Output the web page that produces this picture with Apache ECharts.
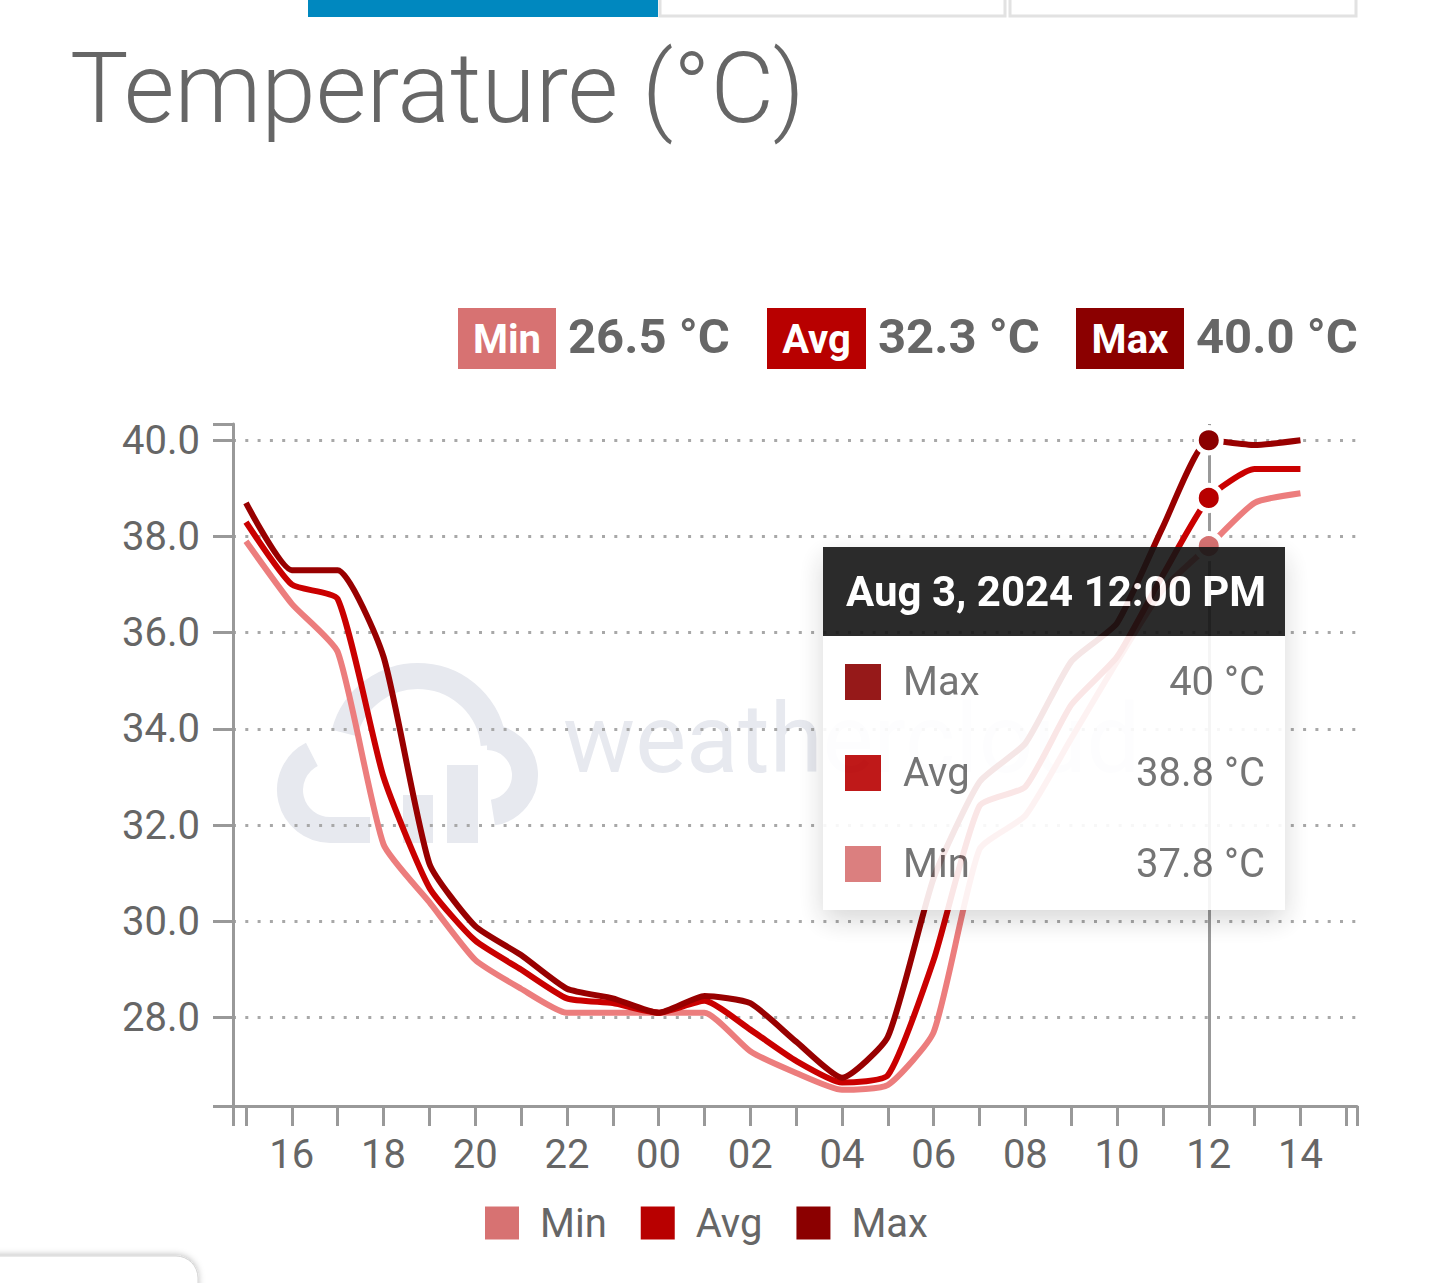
<!DOCTYPE html>
<html><head><meta charset="utf-8">
<script src="https://cdn.jsdelivr.net/npm/echarts@6/dist/echarts.min.js"></script>
<style>html,body{margin:0;padding:0;background:#fff;overflow:hidden;} #c{width:1439px;height:1283px;}</style>
</head><body><div id="c"></div>
<script>
// ---- data ----
const times = ['2024-08-02 15:00','2024-08-02 16:00','2024-08-02 17:00','2024-08-02 18:00','2024-08-02 19:00','2024-08-02 20:00','2024-08-02 21:00','2024-08-02 22:00','2024-08-02 23:00','2024-08-03 00:00','2024-08-03 01:00','2024-08-03 02:00','2024-08-03 03:00','2024-08-03 04:00','2024-08-03 05:00','2024-08-03 06:00','2024-08-03 07:00','2024-08-03 08:00','2024-08-03 09:00','2024-08-03 10:00','2024-08-03 11:00','2024-08-03 12:00','2024-08-03 13:00','2024-08-03 14:00'];
const minValues = [37.9, 36.6, 35.6, 31.6, 30.4, 29.2, 28.6, 28.1, 28.1, 28.1, 28.1, 27.3, 26.85, 26.5, 26.6, 27.7, 31.5, 32.2, 33.8, 35.4, 36.9, 37.8, 38.7, 38.9];
const avgValues = [38.3, 37.0, 36.7, 33.0, 30.7, 29.6, 29.0, 28.4, 28.3, 28.1, 28.35, 27.75, 27.1, 26.65, 26.8, 29.2, 32.4, 32.8, 34.5, 35.5, 37.2, 38.8, 39.4, 39.4];
const maxValues = [38.7, 37.3, 37.3, 35.5, 31.2, 29.9, 29.3, 28.6, 28.4, 28.1, 28.45, 28.3, 27.5, 26.75, 27.6, 30.9, 32.9, 33.7, 35.4, 36.2, 38.2, 40.0, 39.9, 40.0];
const seriesNames = ['Min', 'Avg', 'Max'];
const seriesColors = ['#d77272', '#b80000', '#8b0000'];
const summaryValues = ['26.5', '32.3', '40.0'];
const yTickValues = [28, 30, 32, 34, 36, 38, 40];
const yRange = [26.1625, 40.3375];
const xRange = ['2024-08-02 14:43', '2024-08-03 15:14'];
const xExtraTick = '2024-08-03 15:00';
const tooltipIndex = 21;
const titleText = 'Temperature (°C)';
const unit = '°C';

// ---- helpers ----
const ts = s => new Date(s.replace(' ', 'T') + ':00').getTime();
const pad2 = n => String(n).padStart(2, '0');
const xTicks = [ts(xRange[0])].concat(times.map(ts), [ts(xExtraTick), ts(xRange[1])]);
const xLabels = times.map(ts).filter(t => new Date(t).getHours() % 2 === 0);
const yTicks = [yRange[0]].concat(yTickValues, [yRange[1]]);
const valuesBySeries = [minValues, avgValues, maxValues];
const months = ['Jan','Feb','Mar','Apr','May','Jun','Jul','Aug','Sep','Oct','Nov','Dec'];
function fmtDate(t) {
  const d = new Date(t);
  let h = d.getHours(); const ap = h >= 12 ? 'PM' : 'AM'; h = h % 12; if (h === 0) h = 12;
  return months[d.getMonth()] + ' ' + d.getDate() + ', ' + d.getFullYear() + ' ' + h + ':' + pad2(d.getMinutes()) + ' ' + ap;
}

const FONT = 'Roboto, "Noto Sans", sans-serif';
const chart = echarts.init(document.getElementById('c'), null, {renderer: 'svg'});

const badgeBoxes = [[458, 98], [767, 99], [1076, 108]];
const graphics = [];
graphics.push({type: 'rect', shape: {x: 308, y: -4, width: 350, height: 21}, style: {fill: '#0088bf'}});
graphics.push({type: 'rect', shape: {x: 660, y: -6, width: 345, height: 22}, style: {fill: '#fff', stroke: '#e2e2e2', lineWidth: 3}});
graphics.push({type: 'rect', shape: {x: 1010, y: -6, width: 346, height: 22}, style: {fill: '#fff', stroke: '#e2e2e2', lineWidth: 3}});
graphics.push({type: 'text', style: {text: titleText, x: 70, y: 88, fill: '#666', fontFamily: FONT, fontWeight: 300, fontSize: 98, textVerticalAlign: 'middle'}});
badgeBoxes.forEach((b, i) => {
  graphics.push({type: 'rect', shape: {x: b[0], y: 308, width: b[1], height: 61}, style: {fill: seriesColors[i]}});
  graphics.push({type: 'text', style: {text: seriesNames[i], x: b[0] + b[1] / 2, y: 339, fill: '#fff', fontFamily: FONT, fontWeight: 'bold', fontSize: 40, textAlign: 'center', textVerticalAlign: 'middle'}});
  graphics.push({type: 'text', style: {text: summaryValues[i] + ' ' + unit, x: b[0] + b[1] + 12, y: 336, fill: '#666', fontFamily: FONT, fontWeight: 'bold', fontSize: 49, textVerticalAlign: 'middle'}});
});
const wm = '#e7e9ef';
graphics.push({type: 'group', z: -10, silent: true, children: [
  {type: 'arc', shape: {cx: 418, cy: 752, r: 76, startAngle: Math.PI * 1.08, endAngle: Math.PI * 1.97}, style: {stroke: wm, lineWidth: 26, fill: null}},
  {type: 'arc', shape: {cx: 330, cy: 790, r: 40, startAngle: Math.PI * 0.5, endAngle: Math.PI * 1.35}, style: {stroke: wm, lineWidth: 26, fill: null}},
  {type: 'arc', shape: {cx: 487, cy: 775, r: 38, startAngle: Math.PI * 1.5, endAngle: Math.PI * 0.45}, style: {stroke: wm, lineWidth: 26, fill: null}},
  {type: 'rect', shape: {x: 330, y: 817, width: 40, height: 26}, style: {fill: wm}},
  {type: 'rect', shape: {x: 403, y: 795, width: 30, height: 48}, style: {fill: wm}},
  {type: 'rect', shape: {x: 447, y: 765, width: 31, height: 78}, style: {fill: wm}},
  {type: 'text', style: {text: 'weathercloud', x: 563, y: 787, fill: wm, fontFamily: FONT, fontWeight: 400, fontSize: 96, textVerticalAlign: 'bottom'}}
]});
graphics.push({type: 'rect', shape: {x: -30, y: 1256, width: 228, height: 90, r: 22}, style: {fill: '#fff', stroke: '#d4d4d4', lineWidth: 1, shadowBlur: 6, shadowColor: 'rgba(0,0,0,0.25)', shadowOffsetY: -1}});

const option = {
  animation: false,
  backgroundColor: '#fff',
  textStyle: {fontFamily: FONT},
  color: seriesColors,
  grid: {left: 233, right: 82, top: 424, bottom: 177, containLabel: false},
  legend: {
    data: seriesNames, left: 483, top: 1203, padding: 0, icon: 'rect', itemWidth: 36, itemHeight: 35, itemGap: 32,
    selectedMode: false,
    textStyle: {fontSize: 40, color: '#666', fontFamily: FONT, lineHeight: 40, padding: [0, 0, 0, 15]}
  },
  xAxis: {
    type: 'value', min: ts(xRange[0]), max: ts(xRange[1]),
    axisLine: {show: true, lineStyle: {color: '#999', width: 3}},
    axisTick: {show: true, length: 20, lineStyle: {color: '#999', width: 3}, customValues: xTicks},
    axisLabel: {customValues: xLabels, fontSize: 40, color: '#666', margin: 28, fontFamily: FONT,
      formatter: v => pad2(new Date(v).getHours())},
    splitLine: {show: false}
  },
  yAxis: [{
    type: 'value', min: yRange[0], max: yRange[1],
    axisLine: {show: true, lineStyle: {color: '#999', width: 3}},
    axisTick: {show: true, length: 20, lineStyle: {color: '#999', width: 3}, customValues: yTicks},
    axisLabel: {customValues: yTickValues, fontSize: 40, color: '#666', margin: 33, fontFamily: FONT, formatter: v => v.toFixed(1)},
    splitLine: {show: false}
  }, {
    type: 'value', min: yRange[0], max: yRange[1], position: 'left',
    axisLine: {show: false}, axisLabel: {show: false},
    axisTick: {show: false, customValues: yTickValues},
    splitLine: {show: true, lineStyle: {color: '#a8a8a8', width: 3, type: [3, 9.3]}}
  }],
  tooltip: {
    trigger: 'axis', alwaysShowContent: true, transitionDuration: 0, showDelay: 0, hideDelay: 0,
    padding: 0, borderWidth: 0, backgroundColor: 'transparent', enterable: false,
    position: [823, 547],
    extraCssText: 'box-shadow:none;border-radius:0;',
    axisPointer: {type: 'line', z: 1, lineStyle: {color: '#999', width: 3, type: 'solid'}},
    formatter: params => {
      const byName = {};
      params.forEach(p => { byName[p.seriesName] = p; });
      let rows = '';
      ['Max', 'Avg', 'Min'].forEach(n => {
        const p = byName[n]; if (!p) return;
        rows += '<div style="display:flex;align-items:center;height:91px;padding:0 20px 0 22px;">' +
          '<span style="display:inline-block;width:36px;height:36px;background:' + p.color + ';"></span>' +
          '<span style="margin-left:22px;flex:1;color:#666;font-size:40px;">' + n + '</span>' +
          '<span style="color:#666;font-size:40px;">' + p.value[1] + ' ' + unit + '</span></div>';
      });
      return '<div style="width:462px;opacity:0.9;font-family:' + FONT.replace(/"/g, "'") + ';box-shadow:0 10px 26px rgba(0,0,0,0.18);">' +
        '<div style="background:#151515;color:#fff;font-weight:bold;font-size:42px;height:89px;line-height:89px;padding-left:23px;white-space:nowrap;">' + fmtDate(params[0].axisValue) + '</div>' +
        '<div style="background:#fff;height:274px;">' + rows + '</div></div>';
    }
  },
  graphic: graphics,
  series: seriesNames.map((n, i) => ({
    name: n, type: 'line', yAxisIndex: 0, z: 2 + i,
    data: times.map((t, k) => [ts(t), valuesBySeries[i][k]]),
    showSymbol: false, symbol: 'circle', symbolSize: 25, smooth: 0.18,
    lineStyle: {width: 6, color: seriesColors[i]},
    itemStyle: {color: seriesColors[i], borderColor: '#fff', borderWidth: 5},
    emphasis: {scale: false, focus: 'none', lineStyle: {width: 6}, itemStyle: {borderColor: '#fff', borderWidth: 5}}
  }))
};
chart.setOption(option);
chart.dispatchAction({type: 'showTip', seriesIndex: 0, dataIndex: tooltipIndex});
</script>
</body></html>
